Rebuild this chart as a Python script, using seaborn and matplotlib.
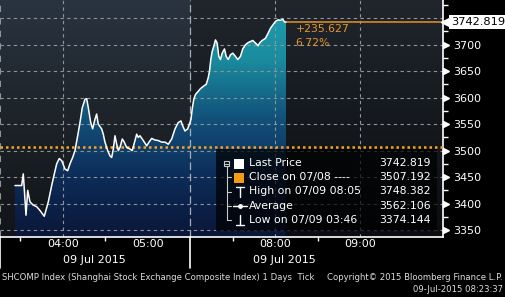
import numpy as np
import pandas as pd
import matplotlib
matplotlib.use("Agg")
import matplotlib.pyplot as plt
import matplotlib.transforms as mtrans
from matplotlib.colors import LinearSegmentedColormap
from matplotlib.lines import Line2D
from matplotlib.patches import Rectangle, Polygon
import seaborn as sns

# ---------------- data ----------------
clock_hours = [3.435, 3.514, 3.533, 3.565, 3.585, 3.612, 3.651, 3.691, 3.729, 3.756,
               3.780, 3.827, 3.867, 3.898, 3.926, 3.956, 3.985, 4.024, 4.055, 4.082,
               4.114, 4.141, 4.173, 4.200, 4.227, 4.259, 4.279, 4.298, 4.326, 4.349,
               4.376, 4.396, 4.415, 4.455, 4.474, 4.494, 4.526, 4.553, 4.573, 4.592,
               4.612, 4.632, 4.651, 4.671, 4.698, 4.721, 4.749, 4.788, 4.815, 4.847,
               4.867, 4.886, 4.906, 4.945, 4.985, 5.012, 5.044, 5.082, 5.121, 5.161,
               5.200, 5.239, 5.279, 5.318, 5.356, 5.388, 5.408, 5.435, 5.467, 5.494,
               7.006, 7.020, 7.039, 7.059, 7.091, 7.118, 7.156, 7.185, 7.208, 7.224,
               7.239, 7.255, 7.274, 7.294, 7.314, 7.333, 7.353, 7.373, 7.400, 7.420,
               7.444, 7.471, 7.498, 7.529, 7.556, 7.588, 7.615, 7.647, 7.679, 7.706,
               7.733, 7.765, 7.796, 7.812, 7.843, 7.882, 7.914, 7.941, 7.968, 8.000,
               8.032, 8.059, 8.086, 8.106, 8.124]
prices = [3434, 3434, 3456, 3378, 3425, 3403, 3397, 3394, 3387, 3381,
          3376, 3403, 3434, 3456, 3475, 3485, 3481, 3465, 3462, 3475,
          3487, 3500, 3528, 3553, 3581, 3597, 3598, 3581, 3553, 3541,
          3559, 3569, 3550, 3541, 3531, 3516, 3500, 3490, 3487, 3503,
          3528, 3512, 3500, 3506, 3522, 3516, 3506, 3503, 3500, 3519,
          3531, 3525, 3528, 3519, 3509, 3516, 3523, 3520, 3519, 3516,
          3516, 3512, 3522, 3541, 3553, 3556, 3547, 3537, 3541, 3553,
          3559, 3578, 3597, 3606, 3612, 3617, 3622, 3625, 3637, 3650,
          3672, 3687, 3697, 3709, 3703, 3678, 3672, 3684, 3692, 3678,
          3672, 3681, 3684, 3678, 3672, 3678, 3692, 3700, 3704, 3706,
          3708, 3703, 3698, 3703, 3708, 3712, 3722, 3731, 3737, 3744,
          3747, 3746, 3748, 3743, 3742.819]
prev_close = 3507.192
last_price = 3742.819
change_texts = ["+235.627", "6.72%"]
last_label = "3742.819"

y_ticks = [3350, 3400, 3450, 3500, 3550, 3600, 3650, 3700, 3750]
y_tick_labels = ["3350", "3400", "3450", "3500", "3550", "3600", "3650", "3700", ""]
x_tick_clock = [4.0, 5.0, 8.0, 9.0]
x_tick_labels = ["04:00", "05:00", "08:00", "09:00"]
x_minor_clock = [3.5, 4.5, 7.5, 8.5]
grid_x_clock = [4.0, 8.0, 9.0]
date_label = "09 Jul 2015"

legend_labels = ["Last Price", "Close on 07/08 ----", "High on 07/09 08:05",
                 "Average", "Low on 07/09 03:46"]
legend_values = ["3742.819", "3507.192", "3748.382", "3562.106", "3374.144"]

footer_left = "SHCOMP Index (Shanghai Stock Exchange Composite Index) 1 Days  Tick"
footer_right = ["Copyright\u00a9 2015 Bloomberg Finance L.P.", "09-Jul-2015 08:23:37"]

BREAK_START, BREAK_LEN = 5.5, 1.5


def compress(t):
    return t if t <= BREAK_START else t - BREAK_LEN


# ---------------- figure ----------------
sns.set_theme(style="dark")
plt.rcParams["font.family"] = ["DejaVu Sans"]

W, H = 506, 297
fig = plt.figure(figsize=(W / 100, H / 100), dpi=100, facecolor="black")
ax_h = 236.7
ax = fig.add_axes([0, 1 - ax_h / H, 443 / W, ax_h / H])
ax.set_facecolor("black")

x0, x1 = 3.259, 8.471
y0, y1 = 3337.4, 3784.4
ax.set_xlim(x0, x1)
ax.set_ylim(y0, y1)

df = pd.DataFrame({"x": [compress(t) for t in clock_hours], "price": prices})

# background gradients
bg_cmap = LinearSegmentedColormap.from_list("bg", ["#0b0d10", "#15191e", "#20262c"])
bg_cmap_am = LinearSegmentedColormap.from_list("bgam", ["#111418", "#1d2329", "#2a3440"])
grad = np.linspace(0, 1, 256).reshape(-1, 1)
ax.imshow(grad, extent=[x0, x1, y0, y1], origin="lower", aspect="auto",
          cmap=bg_cmap, zorder=0)
ax.imshow(grad, extent=[x0, BREAK_START, y0, y1], origin="lower", aspect="auto",
          cmap=bg_cmap_am, zorder=0.1)

# gradient area fill
fill_cmap = LinearSegmentedColormap.from_list(
    "fill", ["#0a1638", "#0d2c58", "#12507a", "#1a8c9e", "#1fa0b0"])
verts = [(df["x"].iloc[0], y0)] + list(zip(df["x"], df["price"])) + [(df["x"].iloc[-1], y0)]
poly = Polygon(verts, closed=True, fc="none", ec="none", transform=ax.transData)
ax.add_patch(poly)
im = ax.imshow(grad, extent=[x0, x1, y0, y1], origin="lower", aspect="auto",
               cmap=fill_cmap, zorder=1)
im.set_clip_path(poly)

# grid
for yv in y_ticks:
    ax.axhline(yv, color="#8d949c", lw=0.8, ls=(0, (3, 3)), zorder=2)
for xv in grid_x_clock:
    ax.axvline(compress(xv), color="#8d949c", lw=0.8, ls=(0, (3, 3)), zorder=2)
ax.axvline(BREAK_START, color="#a8adb3", lw=0.9, ls=(0, (6, 3)), zorder=2)
ax.axvline(x0, color="#8d949c", lw=1.5, ls=(0, (3, 3)), zorder=2)

# previous close dotted line
ax.axhline(prev_close, color="#f7a420", lw=1.8, ls=(0, (1, 1.2)), zorder=3)

# price line
sns.lineplot(data=df, x="x", y="price", color="white", lw=1.1, ax=ax,
             zorder=5, estimator=None, sort=False)

# last price line
last_x = df["x"].iloc[-1]
ax.plot([last_x, x1], [last_price, last_price], color="#d88a20", lw=1.2, zorder=4)
ax.text(last_x + 0.11, last_price - 4, change_texts[0], color="#e8962a",
        fontsize=7.8, va="top", ha="left", zorder=6)
ax.text(last_x + 0.11, last_price - 30, change_texts[1], color="#e8962a",
        fontsize=7.8, va="top", ha="left", zorder=6)

# axes styling
for s in ["top", "left"]:
    ax.spines[s].set_visible(False)
ax.spines["right"].set_color("white")
ax.spines["bottom"].set_color("white")
ax.spines["right"].set_linewidth(1.2)
ax.spines["bottom"].set_linewidth(1.2)
ax.grid(False)

ax.yaxis.tick_right()
ax.set_yticks(y_ticks)
ax.set_yticklabels(y_tick_labels)
ax.set_yticks([v + 25 for v in y_ticks[:-1]] + [3775], minor=True)
ax.tick_params(axis="y", which="major", length=0, pad=7, colors="white",
               labelsize=8, right=True, left=False)
ax.tick_params(axis="y", which="minor", length=3.5, width=1, color="white",
               right=True, left=False)

ax.set_xticks([compress(t) for t in x_tick_clock])
ax.set_xticklabels(x_tick_labels)
ax.set_xticks([compress(t) for t in x_minor_clock], minor=True)
ax.tick_params(axis="x", which="major", length=0, pad=2, colors="white", labelsize=8)
ax.tick_params(axis="x", which="minor", length=3, width=1, color="white",
               bottom=True, direction="out")
ax.set_xlabel("")
ax.set_ylabel("")

# arrow markers on right axis
tr = mtrans.offset_copy(ax.get_yaxis_transform(), fig=fig, x=3.2, y=0, units="dots")
ax.plot([1.0] * (len(y_ticks) - 1), y_ticks[:-1], transform=tr, marker=">",
        ms=5, color="white", ls="none", clip_on=False, zorder=6)

# last price box
tr2 = mtrans.offset_copy(ax.get_yaxis_transform(), fig=fig, x=4, y=0, units="dots")
ax.plot([1.0], [last_price], transform=tr2, marker="<", ms=8, color="white",
        ls="none", clip_on=False, zorder=7)
ax.annotate(last_label, xy=(1.0, last_price), xycoords=ax.get_yaxis_transform(),
            xytext=(8, 0), textcoords="offset pixels", ha="left", va="center",
            fontsize=8.2, color="black", zorder=8, annotation_clip=False,
            bbox=dict(boxstyle="square,pad=0.15", fc="white", ec="none"))

# session separators below axis
sep_tr = ax.get_xaxis_transform()
for xv in [x0 + 0.005, BREAK_START]:
    ax.plot([xv, xv], [0, -(268 - ax_h) / ax_h], transform=sep_tr, color="white",
            lw=1.2, clip_on=False, zorder=6)

# date labels
for xv in [4.37, 6.61]:
    ax.text(xv, -(260 - ax_h) / ax_h, date_label, transform=sep_tr, color="white",
            fontsize=8, ha="center", va="center")


# ---------------- legend (pixel helpers) ----------------
def fx(px):
    return px / W


def fy(py):
    return 1 - py / H


fig.patches.append(Rectangle((fx(216), fy(231)), (437 - 216) / W, (231 - 149) / H,
                             transform=fig.transFigure, fc="black", alpha=0.72,
                             ec="none", zorder=10))
row_y = [163.3, 177.3, 191.5, 205.7, 219.8]
for i, (lab, val) in enumerate(zip(legend_labels, legend_values)):
    fig.text(fx(249), fy(row_y[i]), lab, color="white", fontsize=7.8,
             ha="left", va="center", zorder=12)
    fig.text(fx(431), fy(row_y[i]), val, color="white", fontsize=7.8,
             ha="right", va="center", zorder=12)

lc = "#c8c8c8"


def fline(xs, ys, color=lc, lw=0.8):
    fig.lines.append(Line2D([fx(v) for v in xs], [fy(v) for v in ys],
                            transform=fig.transFigure, color=color, lw=lw, zorder=12))


# tree icon
fig.patches.append(Rectangle((fx(224.5), fy(166)), 5 / W, 5 / H, transform=fig.transFigure,
                             fc="none", ec=lc, lw=0.8, zorder=12))
fline([225.5, 228.5], [163.5, 163.5])
fline([227, 227], [166, row_y[4]])
for yy in row_y[1:]:
    fline([227, 231], [yy, yy])
# squares
fig.patches.append(Rectangle((fx(234), fy(168.5)), 10 / W, 10 / H, transform=fig.transFigure,
                             fc="white", ec="none", zorder=12))
fig.patches.append(Rectangle((fx(234), fy(182.5)), 10 / W, 10 / H, transform=fig.transFigure,
                             fc="#f39c12", ec="none", zorder=12))
# high symbol
fline([236, 244], [186.5, 186.5], color="white", lw=1)
fline([240, 240], [186.5, 196.5], color="white", lw=1)
# average symbol
fline([233, 247], [row_y[3], row_y[3]], color="white", lw=1)
fig.lines.append(Line2D([fx(240)], [fy(row_y[3])], transform=fig.transFigure,
                        marker="o", ms=2.5, color="white", zorder=12))
# low symbol
fline([240, 240], [214.5, 224.5], color="white", lw=1)
fline([236, 244], [224.5, 224.5], color="white", lw=1)

# footer
fig.text(fx(2), fy(277), footer_left, color="#dcdcdc", fontsize=6.15,
         ha="left", va="center")
fig.text(fx(503), fy(277), footer_right[0], color="#dcdcdc", fontsize=6.15,
         ha="right", va="center")
fig.text(fx(503), fy(290), footer_right[1], color="#dcdcdc", fontsize=6.15,
         ha="right", va="center")

fig.savefig("out.png", dpi=100, facecolor="black")
